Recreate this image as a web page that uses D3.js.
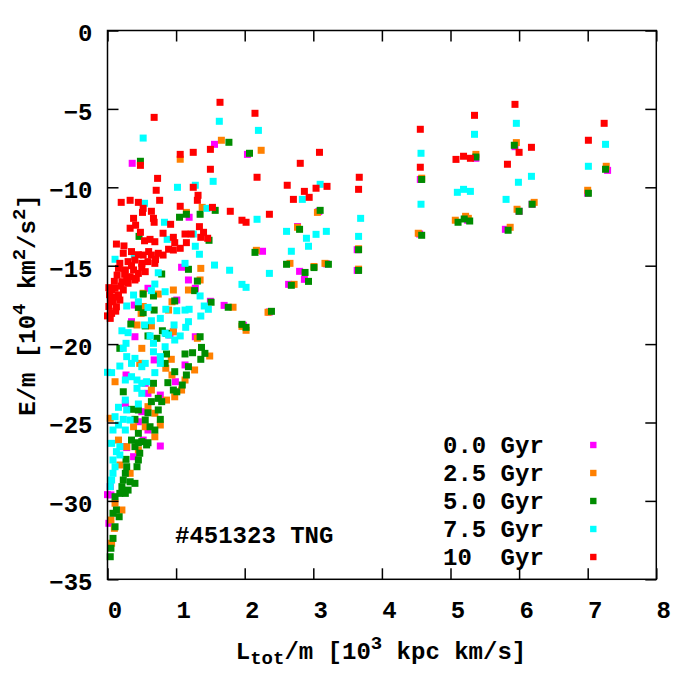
<!DOCTYPE html>
<html><head><meta charset="utf-8">
<script src="https://cdn.jsdelivr.net/npm/d3@7"></script>
<style>body{margin:0;background:#fff} text{font-family:"Liberation Mono","DejaVu Sans Mono",monospace;font-weight:bold;}</style>
</head><body><svg id="c" width="700" height="700"></svg>
<script>
const seriesNames = ["0.0 Gyr","2.5 Gyr","5.0 Gyr","7.5 Gyr","10  Gyr"];
const seriesColors = ["#ff00ff","#ff8000","#008c00","#00ffff","#ff0000"];
const xTicks = [0,1,2,3,4,5,6,7,8];
const yTicks = [0,-5,-10,-15,-20,-25,-30,-35];
const annotation = "#451323 TNG";

const gyr00 = [[3.64,-13.98],[3.64,-15.30],[4.56,-9.50],[4.55,-12.98],[5.37,-8.15],[5.25,-12.10],[5.94,-7.41],[6.00,-11.53],[6.19,-11.08],[5.80,-12.68],[7.29,-8.92],[7.00,-10.38],
[1.56,-7.26],[2.04,-7.90],[0.36,-8.47],[1.19,-11.91],[2.77,-12.50],[2.26,-14.08],[2.80,-15.36],[2.64,-16.19],[2.87,-15.87],[1.08,-15.10],[1.70,-17.53],[1.50,-17.27],[3.08,-11.55],[3.19,-14.88],[2.36,-17.95],[1.98,-18.80],
[1.18,-15.91],[1.28,-16.44],[0.59,-16.44],[1.01,-17.19],[0.39,-17.51],[0.35,-18.57],[0.40,-19.53],[0.91,-19.42],[1.28,-19.53],
[0.96,-19.21],[0.68,-21.01],[0.99,-22.40],[1.13,-21.33],[0.55,-22.50],[0.59,-23.14],[0.77,-23.25],[0.27,-21.97],[0.50,-24.31],[0.45,-24.95],[0.59,-25.48],[0.52,-26.12],[0.77,-26.50],[0.23,-26.54],[0.26,-23.78],
[0.28,-26.60],[0.38,-27.18],[0.04,-29.09],[0.05,-29.62],[0.02,-31.43],[0.00,-29.60]];

const gyr25 = [[3.66,-13.92],[3.66,-15.22],[4.58,-9.42],[4.53,-12.93],[5.37,-7.90],[5.07,-12.10],[5.22,-11.85],[5.26,-11.98],[5.96,-7.15],[5.97,-11.40],[6.22,-10.96],[5.87,-12.55],[7.27,-8.66],[7.00,-10.19],
[1.66,-7.00],[2.24,-7.64],[1.06,-8.21],[1.38,-11.28],[1.15,-11.60],[3.06,-11.60],[2.77,-12.55],[2.17,-14.02],[2.66,-14.85],[3.01,-15.05],[3.17,-14.85],[2.72,-16.19],[1.83,-17.65],[2.34,-17.97],[1.96,-18.87],[2.02,-19.12],
[1.36,-15.17],[1.35,-15.91],[0.96,-16.55],[1.18,-16.55],[0.74,-16.81],[0.94,-17.30],[0.49,-18.04],[0.89,-17.83],[0.43,-18.78],[0.64,-18.84],[0.96,-19.21],[1.31,-19.63],[0.52,-16.76],[0.52,-17.60],
[0.50,-20.27],[0.47,-21.23],[1.49,-20.76],[1.27,-21.65],[0.93,-20.97],[0.85,-21.54],[0.94,-21.97],[1.13,-22.29],[1.08,-22.93],[0.98,-23.36],[0.86,-23.57],[0.64,-22.93],[0.59,-23.99],[0.69,-24.41],[0.77,-25.16],[0.55,-25.27],[0.69,-25.91],[0.38,-25.27],[0.11,-22.40],[0.04,-24.73],[0.16,-26.12],[0.28,-26.54],
[0.45,-26.75],[0.33,-28.24],[0.11,-30.15],[0.21,-30.58],[0.05,-31.22],[0.10,-31.75],[0.06,-32.70],[0.18,-27.71]];

const gyr50 = [[3.66,-13.98],[3.66,-15.30],[4.58,-9.50],[4.58,-13.06],[5.37,-8.07],[5.11,-12.23],[5.20,-12.02],[5.28,-12.15],[5.93,-7.32],[6.00,-11.53],[6.19,-11.08],[5.84,-12.74],[7.26,-8.85],[7.01,-10.38],
[1.77,-7.13],[2.07,-7.83],[0.48,-8.34],[1.57,-11.47],[1.15,-11.72],[1.05,-11.91],[1.35,-11.72],[3.10,-11.47],[2.80,-12.68],[0.46,-13.13],[1.48,-13.38],[2.15,-14.15],[2.61,-14.91],[2.88,-15.43],[3.01,-15.12],[3.22,-14.91],[2.68,-16.25],[2.93,-16.00],[1.76,-17.65],[2.39,-17.91],[1.96,-18.74],[2.02,-18.93],[1.51,-17.33],
[0.79,-15.53],[1.18,-15.23],[1.31,-15.98],[1.27,-16.59],[0.52,-16.81],[0.67,-16.93],[0.98,-17.25],[0.45,-17.66],[0.52,-18.00],[0.68,-17.83],[0.34,-18.72],[0.55,-18.84],[0.80,-19.15],[0.86,-19.31],[0.59,-19.48],[0.72,-19.63],[1.35,-19.53],
[0.18,-20.27],[1.37,-20.21],[1.42,-20.59],[1.13,-20.63],[1.24,-20.55],[0.86,-20.63],[0.84,-21.23],[1.18,-21.44],[1.36,-20.97],[0.98,-21.76],[1.15,-21.97],[0.88,-22.46],[1.09,-22.61],[0.96,-22.93],[1.01,-23.04],[0.67,-22.50],[0.23,-23.04],[0.74,-23.46],[0.64,-23.67],[0.79,-23.67],[0.74,-24.20],[0.59,-24.38],[0.45,-24.20],[0.35,-24.16],[0.55,-24.84],[0.77,-24.80],[0.40,-24.80],[0.62,-25.27],[0.69,-25.48],[0.45,-25.69],[0.35,-26.12],[0.50,-26.22],[0.57,-26.43],[0.40,-26.54],
[0.45,-26.29],[0.59,-26.29],[0.47,-26.96],[0.45,-27.39],[0.43,-27.82],[0.27,-27.35],[0.28,-27.82],[0.26,-28.24],[0.23,-28.67],[0.33,-28.78],[0.40,-28.88],[0.30,-29.31],[0.21,-29.09],[0.18,-29.52],[0.11,-29.73],[0.26,-29.52],[0.13,-30.58],[0.17,-31.01],[0.08,-30.79],[0.11,-31.65],[0.08,-32.39],[0.05,-33.02],[0.04,-33.56]];

const gyr75 = [[3.69,-11.98],[3.66,-13.13],[4.57,-7.83],[4.57,-11.08],[5.35,-6.62],[5.10,-10.32],[5.19,-10.13],[5.29,-10.26],[5.96,-5.92],[5.99,-9.68],[6.18,-9.30],[5.81,-10.77],[7.26,-7.26],[7.01,-8.66],
[1.63,-5.79],[0.52,-6.86],[2.20,-6.37],[1.54,-9.62],[1.02,-10.00],[1.28,-9.87],[2.84,-10.77],[3.10,-9.81],[0.54,-11.02],[1.45,-11.34],[0.83,-12.23],[2.18,-12.04],[2.61,-12.81],[2.90,-13.25],[3.04,-13.00],[3.19,-12.81],[2.93,-13.76],[2.68,-14.08],[0.87,-13.32],[1.28,-13.76],[1.34,-14.27],[2.36,-15.49],[1.78,-15.29],[1.96,-16.19],[2.02,-16.38],
[1.25,-12.98],[1.13,-14.85],[1.56,-14.96],[0.74,-15.45],[0.69,-16.17],[0.64,-16.59],[0.84,-16.66],[0.38,-16.87],[0.45,-17.30],[0.28,-17.57],[0.59,-17.66],[0.85,-17.78],[1.01,-17.87],[1.13,-17.83],[1.19,-17.78],[1.35,-16.93],[1.41,-17.57],[1.47,-17.78],[1.36,-18.21],[1.18,-18.57],[1.14,-18.93],[0.97,-18.78],[0.77,-18.36],[0.64,-18.51],[0.54,-18.78],[0.21,-19.15],[0.30,-19.27],[0.62,-19.48],[0.84,-19.31],[1.06,-19.48],[0.11,-14.59],[0.39,-14.42],
[0.89,-19.42],[0.98,-19.74],[0.27,-19.95],[0.23,-20.27],[0.67,-19.95],[0.84,-20.17],[0.67,-20.49],[0.77,-20.80],[0.77,-21.23],[0.28,-20.80],[0.40,-20.91],[0.35,-21.23],[0.18,-21.40],[0.06,-21.82],[0.00,-21.80],[0.55,-21.23],[0.50,-21.44],[0.69,-21.82],[0.26,-22.29],[0.35,-22.08],[0.43,-22.29],[0.50,-22.50],[0.57,-22.40],[0.43,-22.82],[0.50,-23.14],[0.26,-23.57],[0.45,-23.82],[0.16,-24.03],[0.28,-24.20],[0.11,-24.63],[0.23,-24.80],[0.33,-24.84],[0.16,-25.16],[0.08,-25.48],[0.26,-25.48],[0.06,-26.33],[0.18,-26.54],
[0.13,-26.86],[0.18,-27.07],[0.08,-27.39],[0.11,-27.82],[0.08,-28.24],[0.06,-28.67],[0.04,-29.09]];

const gyr10 = [[3.67,-9.36],[3.66,-10.13],[4.56,-6.30],[4.56,-8.72],[5.08,-8.22],[5.19,-8.02],[5.29,-8.15],[5.35,-5.41],[5.94,-4.71],[6.00,-7.77],[6.18,-7.45],[5.83,-8.53],[7.01,-7.00],[7.24,-5.92],
[0.68,-5.54],[1.64,-4.58],[1.50,-7.58],[2.15,-5.28],[1.06,-7.90],[1.25,-7.77],[0.48,-8.60],[1.50,-8.85],[0.73,-9.43],[2.18,-9.36],[2.81,-8.47],[3.09,-7.77],[1.25,-10.00],[0.71,-10.19],[1.32,-10.51],[1.31,-10.83],[0.76,-10.83],[2.62,-9.87],[2.71,-10.77],[2.87,-10.26],[2.94,-10.64],[3.04,-10.06],[3.20,-9.94],[0.20,-10.96],[0.33,-10.83],[0.45,-10.96],[0.52,-11.34],[0.51,-11.60],[0.64,-11.53],[1.06,-11.21],[1.53,-11.28],[1.79,-11.53],[0.38,-11.98],[0.67,-11.98],[0.68,-12.23],[0.92,-12.36],[0.41,-12.42],[0.33,-12.61],[1.96,-12.10],[2.02,-12.23],[2.36,-11.72],[0.48,-12.87],[0.81,-12.93],
[1.34,-12.51],[1.40,-12.87],[1.46,-13.25],[1.36,-13.19],[0.96,-13.19],[1.13,-12.98],[1.22,-12.98],[1.15,-13.53],[0.98,-13.53],[1.06,-13.89],[0.96,-14.00],[0.89,-13.95],[0.13,-13.62],[0.24,-13.74],[0.35,-14.10],[0.54,-13.41],[0.62,-13.32],[0.69,-13.47],[0.52,-14.32],[0.64,-14.32],[0.74,-14.21],[0.81,-14.32],[0.23,-14.21],[0.18,-14.85],[0.30,-14.74],[0.40,-14.64],[0.50,-14.85],[0.59,-14.74],[0.69,-14.85],[0.16,-15.17],[0.26,-15.27],[0.38,-15.27],[0.45,-15.49],[0.55,-15.38],[0.33,-15.70],[0.21,-16.02],[0.30,-16.12],[0.40,-15.91],[0.11,-16.44],[0.23,-16.55],[0.06,-16.55],[0.16,-16.87],[0.08,-17.30],[0.13,-17.62],[0.06,-18.04],[0.04,-18.36],[0.05,-17.19],[0.18,-17.19],
[0.02,-16.40],[0.03,-16.85],[0.10,-16.00],[0.14,-15.60],[0.28,-15.90],[0.12,-17.90],[0.02,-17.60],[0.20,-16.30],[0.35,-15.00],[0.45,-14.30],[0.60,-14.10],[0.70,-14.60],[0.00,-18.20],[0.10,-17.00],[0.25,-15.55],[0.50,-15.10],[0.42,-15.80]];

const allSeries = [gyr00, gyr25, gyr50, gyr75, gyr10];

const svg = d3.select("#c");
const L = 107.5, T = 30.5, W = 548.8, H = 548.8;
const x = d3.scaleLinear().domain([0, 8]).range([L, L + W]);
const y = d3.scaleLinear().domain([-35, 0]).range([T + H, T]);
const FS = 24, FSS = 19;

// points
const ms = 7;
allSeries.forEach((s, i) => {
  svg.append("g").selectAll("rect").data(s).join("rect")
    .attr("x", d => x(d[0]) - ms / 2).attr("y", d => y(d[1]) - ms / 2)
    .attr("width", ms).attr("height", ms).attr("fill", seriesColors[i]);
});

// axes
const tk = 11;
const gb = svg.append("g").attr("transform", `translate(0,${T + H})`)
  .call(d3.axisBottom(x).tickValues(xTicks).tickSize(-tk).tickPadding(0).tickFormat(d3.format("d")));
const gt = svg.append("g").attr("transform", `translate(0,${T})`)
  .call(d3.axisTop(x).tickValues(xTicks).tickSize(-tk).tickFormat(""));
const gl = svg.append("g").attr("transform", `translate(${L},0)`)
  .call(d3.axisLeft(y).tickValues(yTicks).tickSize(-tk).tickPadding(15).tickFormat(d3.format("d")));
const gr = svg.append("g").attr("transform", `translate(${L + W},0)`)
  .call(d3.axisRight(y).tickValues(yTicks).tickSize(-tk).tickFormat(""));
[gb, gt, gl, gr].forEach(g => {
  g.select(".domain").remove();
  g.selectAll(".tick line").attr("stroke", "#000").attr("stroke-width", 1.5);
  g.selectAll("text").attr("font-size", FS).attr("fill", "#000")
    .style("font-family", '"Liberation Mono",monospace').style("font-weight", "bold");
});
gb.selectAll(".tick text").attr("dy", null).attr("y", 39).attr("x", 7);
gl.selectAll(".tick text").attr("dy", "0.35em").attr("y", 2);

svg.append("rect").attr("x", L).attr("y", T).attr("width", W).attr("height", H)
  .attr("fill", "none").attr("stroke", "#000").attr("stroke-width", 1.5);

// axis labels
const xl = svg.append("text").attr("x", 381).attr("y", 659).attr("text-anchor", "middle").attr("font-size", FS);
xl.append("tspan").text("L");
xl.append("tspan").text("tot").attr("font-size", FSS).attr("dy", 5);
xl.append("tspan").text("/m [10").attr("dy", -5);
xl.append("tspan").text("3").attr("font-size", FSS).attr("dy", -10);
xl.append("tspan").text(" kpc km/s]").attr("dy", 10);

const yl = svg.append("text").attr("transform", "translate(35,305) rotate(-90)").attr("text-anchor", "middle").attr("font-size", FS);
yl.append("tspan").text("E/m [10");
yl.append("tspan").text("4").attr("font-size", FSS).attr("dy", -10);
yl.append("tspan").text(" km").attr("dy", 10);
yl.append("tspan").text("2").attr("font-size", FSS).attr("dy", -10);
yl.append("tspan").text("/s").attr("dy", 10);
yl.append("tspan").text("2").attr("font-size", FSS).attr("dy", -10);
yl.append("tspan").text("]").attr("dy", 10);

svg.append("text").attr("x", 175).attr("y", 543).attr("font-size", FS).text(annotation);

// legend
seriesNames.forEach((n, i) => {
  const cy = 445 + i * 28;
  svg.append("text").attr("x", 443).attr("y", cy + 8).attr("font-size", FS)
    .attr("xml:space", "preserve").style("white-space", "pre").text(n);
  svg.append("rect").attr("x", 593.3 - 3.2).attr("y", cy - 3.2).attr("width", 6.4).attr("height", 6.4)
    .attr("fill", seriesColors[i]);
});
</script></body></html>
